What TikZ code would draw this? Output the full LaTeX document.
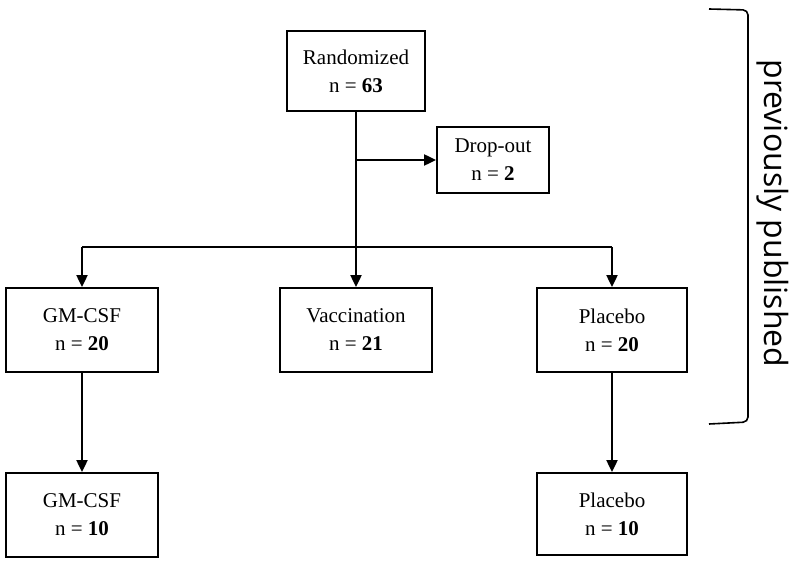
\documentclass[tikz,border=0pt]{standalone}
\usepackage{fontspec}
\setmainfont{Liberation Serif}
\newfontfamily\sidefont{Open Sans}
\usetikzlibrary{arrows.meta}
\tikzset{x=1pt,y=-1pt,
    box/.style={
        draw,
        line width=1.8pt,
        align=center,
        inner sep=0pt,
        font=\fontsize{21}{28}\selectfont},
    every edge/.style={
        draw,
        ->,>={Triangle[length=12pt,width=11pt]},
        line width=2pt}}

\begin{document}
\begin{tikzpicture}
    \useasboundingbox (0,0) rectangle (798,564);

    \node[box,minimum width=138pt,minimum height=80pt] (1) at (356,71) {Randomized\\n = \textbf{63}};
    \node[box,minimum width=112pt,minimum height=66pt] (2) at (493,160) {Drop-out\\n = \textbf{2}};
    \node[box,minimum width=152pt,minimum height=84pt] (3) at (82,330) {GM-CSF\\n = \textbf{20}};
    \node[box,minimum width=152pt,minimum height=84pt] (4) at (356,330) {Vaccination\\n = \textbf{21}};
    \node[box,minimum width=150pt,minimum height=84pt] (5) at (612,330) {Placebo\\n = \textbf{20}};
    \node[box,minimum width=152pt,minimum height=84pt] (6) at (82,515) {GM-CSF\\n = \textbf{10}};
    \node[box,minimum width=150pt,minimum height=82pt] (7) at (612,514) {Placebo\\n = \textbf{10}};

    \coordinate (c1) at (356,160);
    \coordinate (b1) at (82,247);
    \coordinate (b3) at (612,247);

    \draw (1) edge (4);
    \draw (c1) edge (2);

    \draw[line width=2pt] (b1) -- (b3);
    \draw (b1) edge (3);
    \draw (b3) edge (5);

    \draw (3) edge (6);
    \draw (5) edge (7);

    % bracket
    \draw[line width=1.6pt,rounded corners=5pt] (709,9) -- (748,10) -- (748,422) -- (709,424);
    \node[rotate=-90,font=\sidefont\fontsize{32}{38}\selectfont] (8) at (773,213.5) {previously published};
\end{tikzpicture}
\end{document}
